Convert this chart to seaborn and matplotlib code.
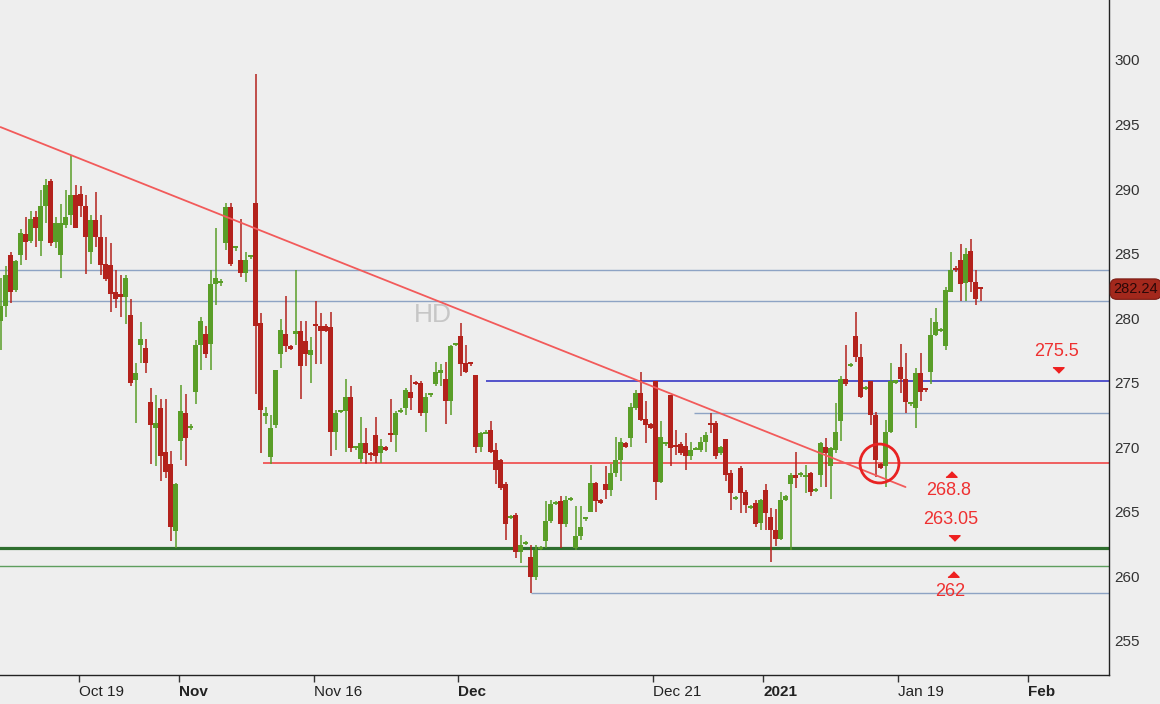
import numpy as np
import pandas as pd
import seaborn as sns
import matplotlib.pyplot as plt
import matplotlib.transforms as mtransforms

# HD candles, left to right
opens = [279.8, 280.9, 284.9, 282.2, 284.9, 286.5, 286.0, 287.8, 286.0, 288.7,
         290.6, 285.9, 284.9, 287.2, 288.0, 289.5, 289.6, 288.7, 285.1, 287.6,
         286.3, 284.2, 284.1, 282.0, 281.9, 281.6, 280.2, 275.2, 277.9, 277.7,
         273.5, 271.5, 273.0, 269.6, 268.7, 263.5, 270.5, 272.6, 271.5, 274.3,
         277.9, 278.8, 278.0, 282.6, 282.7, 285.8, 288.6, 285.4, 284.5, 283.5,
         284.7, 288.9, 279.6, 272.4, 269.2, 271.7, 277.2, 278.8, 277.8, 278.8,
         279.0, 278.2, 277.1, 279.5, 279.4, 279.4, 279.3, 271.2, 272.7, 272.8,
         273.9, 269.9, 269.1, 270.3, 269.5, 270.9, 269.5, 270.0, 271.1, 270.9,
         272.7, 273.0, 274.3, 275.0, 275.0, 272.6, 274.0, 274.9, 275.7, 275.3,
         273.6, 277.9, 278.6, 276.5, 276.5, 275.6, 270.0, 271.0, 271.3, 269.8,
         269.0, 267.1, 264.5, 264.7, 261.9, 262.5, 261.5, 259.9, 262.1, 262.7,
         264.3, 265.6, 265.8, 264.0, 265.9, 262.2, 263.1, 264.4, 265.0, 267.2,
         265.8, 267.1, 266.7, 268.0, 269.0, 270.3, 270.7, 273.0, 274.2, 272.2,
         271.8, 275.1, 267.3, 270.2, 274.0, 270.1, 270.2, 270.1, 269.3, 269.8,
         269.8, 270.4, 271.8, 271.9, 269.5, 270.6, 268.0, 266.0, 268.4, 266.5,
         265.3, 265.7, 264.1, 266.7, 264.6, 263.6, 262.9, 265.9, 267.1, 267.8,
         267.8, 267.7, 268.0, 266.6, 267.8, 270.0, 268.5, 269.8, 272.0, 275.3,
         276.3, 278.6, 277.0, 274.5, 275.1, 272.5, 268.7, 268.5, 271.2, 275.0,
         276.2, 275.3, 273.3, 273.0, 275.7, 274.5, 275.8, 278.7, 279.0, 277.8,
         282.0, 283.9, 284.5, 282.7, 285.2, 282.8, 282.3]
highs = [283.1, 284.0, 285.1, 284.5, 286.9, 287.8, 288.3, 288.3, 289.9, 290.8,
         290.8, 287.8, 288.8, 289.9, 292.6, 290.3, 290.2, 289.5, 288.0, 289.8,
         288.0, 286.3, 285.8, 283.7, 283.3, 283.3, 281.5, 276.5, 279.7, 278.4,
         274.6, 274.0, 273.7, 273.7, 269.7, 267.2, 274.8, 274.1, 271.8, 278.3,
         280.1, 279.4, 283.7, 287.0, 283.0, 288.9, 288.9, 285.6, 287.7, 285.1,
         284.9, 298.9, 280.4, 273.1, 272.5, 276.0, 279.9, 281.7, 277.9, 283.7,
         279.8, 279.8, 278.5, 281.3, 280.4, 279.5, 280.5, 272.9, 272.9, 275.3,
         274.7, 270.1, 272.3, 271.5, 269.6, 272.3, 270.6, 270.1, 273.7, 272.8,
         273.0, 274.6, 275.6, 275.1, 275.1, 274.2, 274.2, 276.6, 276.4, 276.6,
         277.9, 278.1, 279.6, 277.9, 276.6, 275.6, 271.2, 271.3, 272.0, 270.3,
         269.1, 267.3, 264.7, 264.9, 263.2, 262.7, 262.4, 262.4, 262.3, 265.8,
         265.9, 265.8, 266.2, 266.2, 266.1, 265.4, 265.4, 264.6, 268.6, 267.3,
         266.0, 268.5, 268.7, 270.8, 270.7, 270.4, 273.4, 274.4, 275.8, 273.6,
         271.9, 275.1, 272.0, 270.4, 274.0, 271.3, 270.4, 271.1, 270.4, 270.0,
         270.8, 271.2, 272.6, 272.0, 270.1, 270.6, 268.2, 266.2, 268.5, 266.7,
         265.5, 265.9, 266.0, 267.1, 265.3, 265.2, 266.5, 266.3, 268.0, 269.6,
         268.1, 268.6, 268.1, 266.8, 270.4, 270.7, 270.0, 273.4, 275.5, 277.9,
         276.5, 280.5, 278.0, 274.7, 275.1, 272.7, 268.8, 272.1, 276.5, 275.1,
         278.0, 277.3, 273.5, 276.1, 277.3, 274.5, 280.0, 280.8, 279.2, 282.4,
         285.1, 284.0, 285.7, 285.4, 286.1, 283.7, 282.3]
lows = [277.5, 280.1, 281.2, 282.0, 284.1, 284.5, 285.8, 285.5, 284.8, 287.4,
        285.6, 285.4, 283.1, 287.0, 287.2, 287.0, 287.8, 283.4, 284.2, 285.5,
        283.3, 282.9, 280.5, 280.8, 280.1, 279.5, 274.7, 271.9, 276.5, 275.7,
        268.7, 268.5, 267.4, 267.6, 262.7, 262.2, 269.0, 268.5, 271.3, 273.3,
        276.0, 276.9, 276.0, 281.0, 282.5, 285.3, 284.0, 285.2, 283.2, 282.8,
        284.6, 274.1, 269.5, 271.8, 268.7, 271.5, 276.1, 277.4, 277.5, 277.9,
        273.7, 276.3, 275.0, 276.4, 276.4, 278.9, 269.3, 269.8, 272.6, 269.6,
        269.6, 269.8, 268.8, 268.7, 268.9, 268.8, 268.8, 269.7, 270.4, 269.6,
        272.6, 272.5, 272.9, 274.8, 272.4, 271.2, 273.9, 274.7, 274.7, 271.8,
        272.5, 277.8, 275.5, 275.7, 276.3, 269.5, 269.6, 271.0, 269.5, 267.1,
        266.7, 262.8, 264.4, 261.4, 261.0, 262.4, 258.7, 259.7, 262.0, 262.2,
        264.1, 265.5, 262.2, 263.8, 265.8, 262.0, 262.8, 264.3, 265.0, 265.0,
        265.6, 266.0, 266.2, 267.7, 267.4, 269.9, 270.0, 272.9, 272.0, 270.3,
        271.4, 265.9, 267.2, 270.1, 268.5, 269.4, 269.4, 268.2, 269.0, 269.8,
        269.6, 269.6, 271.1, 269.1, 269.4, 267.4, 265.1, 265.9, 264.9, 264.9,
        265.2, 263.8, 263.6, 263.6, 261.1, 262.3, 262.8, 265.8, 262.0, 266.8,
        267.7, 266.4, 266.2, 266.5, 266.9, 266.9, 266.0, 269.5, 270.5, 274.7,
        276.2, 276.6, 273.8, 274.4, 271.7, 267.7, 268.3, 266.9, 271.1, 274.9,
        274.2, 272.6, 273.2, 271.5, 273.6, 274.3, 274.9, 278.6, 278.9, 277.5,
        282.0, 283.6, 281.3, 281.3, 282.0, 281.0, 281.3]
closes = [280.9, 283.3, 282.0, 284.4, 286.6, 285.9, 287.7, 287.0, 288.7, 290.3,
          285.8, 287.4, 287.4, 287.8, 289.5, 287.0, 288.7, 286.3, 287.6, 286.3,
          284.1, 283.0, 281.9, 281.5, 281.6, 283.1, 275.0, 275.7, 278.4, 276.5,
          271.7, 271.9, 269.3, 268.1, 263.8, 267.1, 272.8, 270.7, 271.6, 277.9,
          279.8, 277.2, 282.6, 283.1, 282.8, 288.6, 284.2, 285.5, 283.5, 284.5,
          284.8, 279.4, 272.9, 272.6, 271.5, 276.0, 279.1, 277.8, 277.6, 279.0,
          276.3, 277.2, 277.5, 279.4, 279.0, 279.0, 271.2, 272.6, 272.8, 273.9,
          269.9, 270.0, 270.3, 269.5, 269.4, 269.3, 270.1, 269.8, 270.9, 272.6,
          272.9, 274.4, 273.8, 274.9, 272.6, 273.9, 274.1, 275.8, 276.0, 273.6,
          277.8, 278.0, 276.4, 275.8, 276.4, 270.0, 271.1, 271.2, 269.6, 268.2,
          266.8, 264.0, 264.6, 261.9, 262.4, 262.6, 259.9, 262.0, 262.2, 264.3,
          265.6, 265.7, 264.0, 265.9, 266.0, 263.1, 263.8, 264.5, 267.2, 265.8,
          265.7, 266.7, 268.0, 269.0, 270.4, 270.0, 273.1, 274.2, 272.1, 271.7,
          271.5, 267.3, 270.8, 270.3, 269.9, 270.0, 269.5, 269.3, 269.8, 269.9,
          270.4, 270.9, 271.7, 269.3, 270.0, 267.8, 266.4, 266.1, 266.4, 265.5,
          265.4, 264.0, 265.9, 264.9, 263.6, 262.9, 265.9, 266.2, 267.8, 267.6,
          268.0, 267.8, 266.5, 266.7, 270.3, 269.5, 269.9, 271.2, 275.3, 274.9,
          276.4, 277.0, 273.9, 274.6, 272.5, 269.0, 268.4, 271.2, 275.1, 275.0,
          275.3, 273.5, 273.4, 275.7, 274.3, 274.4, 278.7, 279.7, 279.1, 282.2,
          283.7, 283.7, 282.6, 285.0, 282.8, 281.5, 282.24]

tick_pos = [15.6, 35.6, 62.6, 91.5, 130.5, 152.5, 179.5, 205.4]
tick_labels = ["Oct 19", "Nov", "Nov 16", "Dec", "Dec 21", "2021", "Jan 19", "Feb"]
month_labels = ["Nov", "Dec", "2021", "Feb"]

# support / resistance levels drawn on the chart
level_prices = [283.7, 281.3, 275.1, 272.6, 268.8, 262.2, 260.8, 258.7]
level_starts = [-1, -1, 97, 138.6, 52.4, -1, -1, 106]
level_colors = ["#8DA3C4", "#8DA3C4", "#4646C8", "#8DA3C4", "#F04646", "#2E6E2E", "#5E9E5E", "#8DA3C4"]
level_widths = [1.0, 1.0, 1.3, 1.0, 1.2, 2.3, 1.0, 1.0]

trend_x = [0, 181]
trend_y = [294.8, 266.9]

note_texts = ["275.5", "268.8", "263.05", "262"]
note_x = [211.2, 189.6, 190.0, 190.0]
note_y = [277.4, 266.6, 264.4, 258.8]
arrow_x = [211.4, 190.0, 190.6, 190.4]
arrow_y = [276.0, 267.9, 262.95, 260.15]
arrow_dir = ["down", "up", "down", "up"]

circle_x = 175.6
circle_y = 268.75
last_price = 282.24

df = pd.DataFrame({"open": opens, "high": highs, "low": lows, "close": closes})
df["idx"] = np.arange(len(df))
df["up"] = df["close"] >= df["open"]

sns.set_theme(style="white", rc={"axes.facecolor": "#EEEEEE", "figure.facecolor": "#EEEEEE",
                                 "axes.edgecolor": "#222222"})
plt.rcParams['font.family'] = ['Liberation Sans', 'DejaVu Sans']

green = "#5A9E28"
red = "#B3221C"

fig = plt.figure(figsize=(11.6, 7.04), dpi=100)
ax = fig.add_axes([0, 29 / 704, 1109 / 1160, 675 / 704])

cols = np.where(df["up"], green, red)
ax.vlines(df["idx"], df["low"], df["high"], colors=cols, linewidth=1.1, zorder=3)
body = np.maximum((df["close"] - df["open"]).abs(), 0.16)
ax.bar(df["idx"], body, bottom=np.minimum(df["open"], df["close"]), width=0.9,
       color=cols, linewidth=0, zorder=4)

xmax = 221.7
for p, s, c, w in zip(level_prices, level_starts, level_colors, level_widths):
    ax.hlines(p, s, xmax, colors=c, linewidth=w, zorder=2)

ax.plot(trend_x, trend_y, color="#F25A5A", linewidth=1.3, zorder=5)
ax.plot(circle_x, circle_y, marker="o", ms=28, mfc="none", mec="#E82222", mew=2, zorder=6)

down_tri = [(-1, 0.5), (1, 0.5), (0, -0.5)]
up_tri = [(-1, -0.5), (1, -0.5), (0, 0.5)]
for t, x, y in zip(note_texts, note_x, note_y):
    ax.text(x, y, t, color="#EE3030", fontsize=13, ha="center", va="center", zorder=6)
for x, y, d in zip(arrow_x, arrow_y, arrow_dir):
    ax.plot(x, y, marker=down_tri if d == "down" else up_tri, ms=8, color="#EE2020",
            linestyle="none", zorder=6)

ax.text(86.4, 280.2, "HD", color="#C6C6C6", fontsize=19, ha="center", va="center", zorder=1)

# last price tag on the right axis
trans = mtransforms.blended_transform_factory(ax.transAxes, ax.transData)
ax.text(1.004, last_price, f"{last_price:.2f}", transform=trans, fontsize=10.5, color="#2A0808",
        ha="left", va="center", clip_on=False, zorder=7,
        bbox=dict(boxstyle="round,pad=0.22,rounding_size=0.45", fc="#A3281C", ec="#7A1A12", lw=0.8))

ax.set_xlim(-0.1, xmax)
ax.set_ylim(252.33, 304.65)

ax.yaxis.tick_right()
ax.set_yticks(np.arange(255, 301, 5))
ax.tick_params(axis="y", length=0, pad=4, labelsize=11, labelcolor="#333333")
ax.set_xticks(tick_pos)
ax.set_xticklabels(tick_labels)
ax.tick_params(axis="x", length=5, width=1, color="#333333", pad=2, labelsize=11, labelcolor="#222222",
               bottom=True)
for lab in ax.get_xticklabels():
    lab.set_ha("left")
    if lab.get_text() in month_labels:
        lab.set_fontweight("bold")

sns.despine(ax=ax, left=True, top=True, right=False, bottom=False)
ax.spines["right"].set_linewidth(1)
ax.spines["bottom"].set_linewidth(1)
ax.grid(False)

fig.savefig("out.png", dpi=100, facecolor=fig.get_facecolor())
